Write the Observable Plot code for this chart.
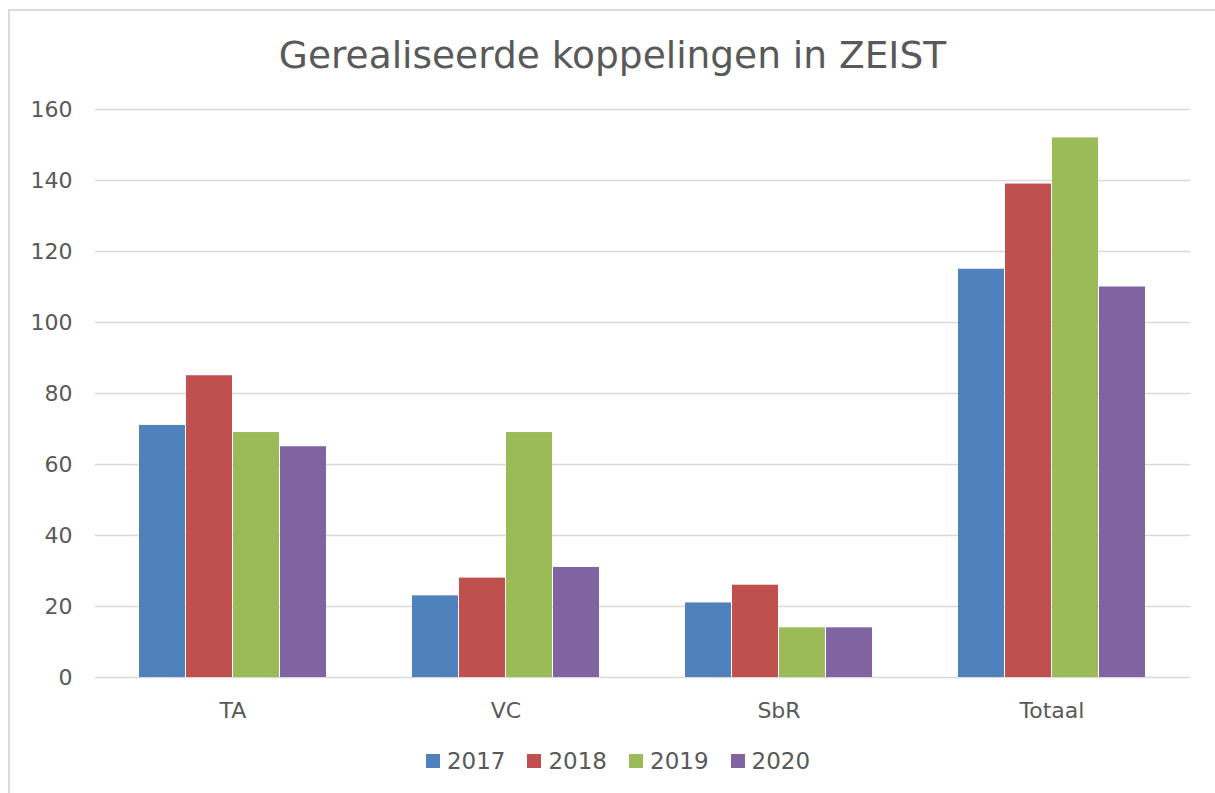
<!DOCTYPE html>
<html>
<head>
<meta charset="utf-8">
<script src="https://cdn.jsdelivr.net/npm/d3@7"></script>
<script src="https://cdn.jsdelivr.net/npm/@observablehq/plot@0.6"></script>
<style>
  html, body { margin: 0; padding: 0; background: #fff; width: 1215px; height: 793px; overflow: hidden; }
  body { font-family: "DejaVu Sans", Verdana, sans-serif; color: #595959; position: relative; }
  #frame { position: absolute; left: 8px; top: 9px; width: 1300px; height: 900px; border-left: 2px solid #d9d9d9; border-top: 2px solid #d9d9d9; }
  #title { position: absolute; left: 0; width: 1225px; top: 33px; text-align: center; font-size: 37.5px; color: #595959; }
  #chart { position: absolute; left: 0; top: 80px; }
  #legend { position: absolute; left: 0; width: 1236px; top: 748px; display: flex; justify-content: center; font-size: 23px; color: #595959; }
  .item { display: flex; align-items: center; margin: 0 11px; }
  .sw { width: 14px; height: 14px; margin-right: 7px; }
</style>
</head>
<body>
<div id="frame"></div>
<div id="title">Gerealiseerde koppelingen in ZEIST</div>
<div id="chart"></div>
<div id="legend"></div>
<script>
const categories = ["TA", "VC", "SbR", "Totaal"];
const years = ["2017", "2018", "2019", "2020"];
const colors = ["#4F81BD", "#C0504D", "#9BBB59", "#8064A2"];
const v2017 = [71, 23, 21, 115];
const v2018 = [85, 28, 26, 139];
const v2019 = [69, 69, 14, 152];
const v2020 = [65, 31, 14, 110];
const yTicks = [0, 20, 40, 60, 80, 100, 120, 140, 160];

const series = [v2017, v2018, v2019, v2020];
const rows = [];
years.forEach((yr, i) => categories.forEach((c, j) => rows.push({year: yr, category: c, value: series[i][j]})));

const bandW = 188; // width of each group of bars (px)
const barW = bandW / years.length;

const marks = [
  Plot.ruleY(yTicks, {stroke: "#d9d9d9", strokeWidth: 1.5}),
  ...years.map((yr, i) => Plot.barY(rows.filter(d => d.year === yr), {
    x: "category", y: "value", fill: colors[i],
    insetLeft: i * barW, insetRight: (years.length - 1 - i) * barW
  }))
];

const chart = Plot.plot({
  width: 1215,
  height: 660,
  marginTop: 29,
  marginBottom: 63,
  marginLeft: 95,
  marginRight: 25,
  style: {fontFamily: '"DejaVu Sans", Verdana, sans-serif', fontSize: "22px", color: "#595959", background: "transparent"},
  x: {domain: categories, paddingInner: 0.314, paddingOuter: 0.157, label: null, tickSize: 0, tickPadding: 25},
  y: {domain: [0, 160], ticks: yTicks, label: null, tickSize: 0, tickPadding: 23},
  marks
});
document.getElementById("chart").appendChild(chart);

const legend = document.getElementById("legend");
years.forEach((yr, i) => {
  const it = document.createElement("div");
  it.className = "item";
  it.innerHTML = `<div class="sw" style="background:${colors[i]}"></div><span>${yr}</span>`;
  legend.appendChild(it);
});
</script>
</body>
</html>
